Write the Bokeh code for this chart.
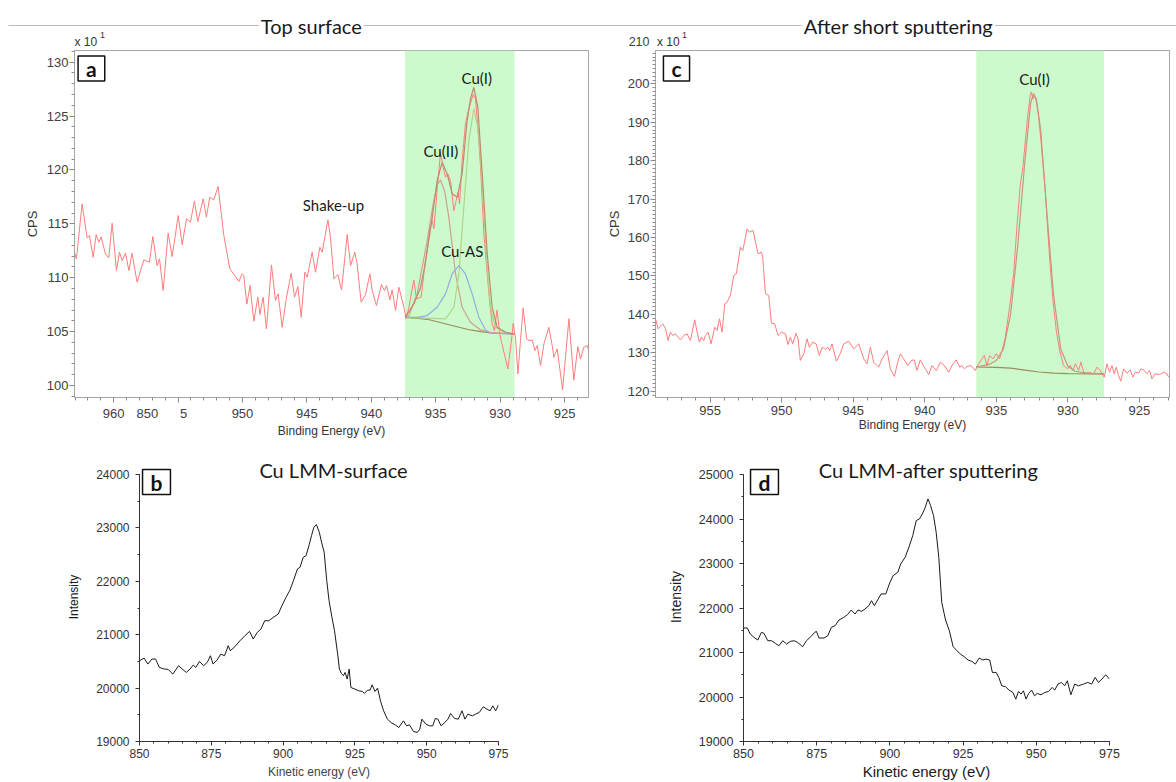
import math
from bokeh.plotting import figure
from bokeh.models import Range1d, Label, BoxAnnotation, SingleIntervalTicker
from bokeh.layouts import column, row
from bokeh.embed import file_html
from bokeh.resources import INLINE

# ---------------- data ----------------
# (a) Cu 2p3/2, top surface  (binding energy, CPS x10)
a_be = [963.35, 962.89, 962.45, 962.06, 961.88, 961.59, 961.36, 961.15, 960.97, 960.64,
        960.38, 960.12, 959.78, 959.55, 959.34, 959.08, 958.82, 958.57, 958.18, 957.66,
        957.22, 956.96, 956.63, 956.44, 956.16, 955.77, 955.46, 954.99, 954.68, 954.35,
        954.04, 953.73, 953.47, 953.05, 952.8, 952.54, 952.23, 951.89, 951.45, 950.98,
        950.54, 950.28, 950.03, 949.9, 949.66, 949.41, 949.12, 948.81, 948.65, 948.4,
        948.14, 947.75, 947.44, 947.23, 946.92, 946.58, 946.22, 945.96, 945.7, 945.44,
        945.16, 944.98, 944.85, 944.59, 944.33, 943.99, 943.81, 943.37, 943.17, 942.9,
        942.6, 942.31, 941.87, 941.61, 941.28, 941.1, 940.79, 940.45, 940.11, 939.93,
        939.6, 939.21, 938.98, 938.82, 938.56, 938.38, 938.12, 937.86, 937.47, 937.3,
        937.08, 936.7, 936.49, 936.13, 935.92, 935.66, 935.46, 935.27, 935.14, 934.94,
        934.63, 934.42, 934.24, 934.06, 933.85, 933.59, 933.41, 933.26, 933.15, 932.95,
        932.69, 932.43, 932.09, 931.91, 931.73, 931.52, 931.26, 931.0, 930.8, 930.62,
        930.44, 930.25, 930.0, 929.4, 929.06, 928.99, 928.81, 928.62, 928.42, 928.21,
        927.95, 927.69, 927.51, 927.3, 927.12, 926.86, 926.6, 926.22, 925.96, 925.83,
        925.57, 925.15, 924.66, 924.28, 923.97, 923.76, 923.5, 923.24, 923.1]
a_cps = [113.6, 111.75, 116.85, 113.7, 113.9, 111.9, 114.0, 113.3, 113.8, 112.2,
         111.85, 115.06, 110.67, 112.37, 111.6, 112.28, 110.67, 112.28, 109.59, 111.66,
         111.44, 113.82, 111.13, 111.75, 108.81, 114.13, 111.97, 115.77, 113.05, 115.46,
         115.15, 117.1, 115.21, 117.32, 115.62, 117.47, 117.22, 118.46, 113.92, 110.82,
         110.11, 109.65, 110.36, 110.2, 107.55, 109.28, 105.97, 108.2, 106.59, 108.2,
         105.26, 111.19, 107.89, 108.5, 105.41, 108.2, 110.42, 108.2, 109.18, 106.34,
         110.51, 110.05, 110.82, 112.37, 110.51, 112.83, 112.37, 115.37, 113.76, 109.9,
         110.3, 108.87, 114.01, 111.13, 112.37, 111.29, 107.73, 108.44, 110.36, 108.81,
         107.42, 109.37, 108.81, 109.28, 107.95, 108.87, 106.96, 109.12, 107.27, 106.2,
         107.26, 109.8, 108.04, 108.2, 110.35, 112.52, 114.53, 115.3, 114.53, 117.47,
         121.6, 120.25, 119.32, 119.63, 119.0, 116.23, 117.16, 117.93, 116.85, 120.87,
         124.27, 125.66, 127.0, 126.59, 123.96, 120.25, 114.07, 110.35, 107.57, 105.72,
         105.1, 107.0, 104.6, 101.54, 104.79, 105.78, 104.48, 101.08, 104.17, 107.2,
         104.33, 104.17, 104.23, 103.24, 103.71, 101.85, 103.86, 105.4, 103.71, 102.63,
         103.4, 99.6, 106.2, 100.5, 103.61, 102.47, 103.55, 103.71, 103.2]

a_env_be = [937.38, 936.7, 936.2, 935.92, 935.6, 935.27, 934.89, 934.5, 934.11, 933.72,
            933.33, 932.95, 932.56, 932.3, 932.04, 931.73, 931.39, 931.0, 930.62, 930.23,
            929.5, 928.88]
a_env_cps = [106.33, 107.57, 109.0, 110.66, 113.0, 115.6, 119.0, 120.71, 119.63, 117.78,
             117.47, 119.63, 124.58, 126.6, 127.67, 125.82, 119.63, 112.21, 107.26, 105.4,
             104.9, 104.79]
a_bg_be = [937.38, 936.5, 935.5, 934.5, 933.5, 932.5, 931.5, 930.5, 928.88]
a_bg_cps = [106.33, 106.25, 106.1, 105.8, 105.5, 105.2, 105.0, 104.85, 104.79]
a_cu2_be = [937.38, 937.08, 936.44, 935.66, 935.2, 934.9, 934.63, 934.3, 933.98, 933.46,
            932.95, 932.3, 931.52, 930.75, 928.88]
a_cu2_cps = [106.33, 106.5, 108.5, 113.45, 116.8, 118.6, 119.07, 118.0, 115.6, 110.35,
             107.26, 105.87, 105.16, 104.94, 104.79]
a_cu1_be = [937.38, 934.24, 933.59, 933.2, 932.82, 932.43, 932.04, 931.73, 931.52, 931.26,
            931.0, 930.75, 930.36, 929.71, 928.88]
a_cu1_cps = [106.33, 106.18, 107.26, 110.35, 116.54, 122.72, 125.66, 123.96, 121.18, 115.92,
             110.97, 107.26, 105.4, 104.94, 104.79]
a_as_be = [937.38, 936.44, 935.66, 934.89, 934.24, 933.72, 933.2, 932.69, 932.17, 931.65,
           931.13, 930.75, 928.88]
a_as_cps = [106.33, 106.33, 106.49, 107.26, 108.5, 110.35, 111.13, 110.35, 108.5, 106.33,
            105.16, 104.85, 104.79]

# (c) Cu 2p, after short sputtering
c_be = [958.81, 958.63, 958.3, 958.11, 957.93, 957.77, 957.6, 957.42, 957.23, 957.07,
        956.83, 956.6, 956.37, 956.25, 956.07, 955.9, 955.74, 955.6, 955.44, 955.32,
        955.13, 954.93, 954.67, 954.51, 954.34, 954.16, 953.97, 953.81, 953.58, 953.34,
        953.16, 952.88, 952.71, 952.41, 952.25, 951.99, 951.83, 951.64, 951.41, 951.32,
        951.13, 950.9, 950.71, 950.48, 950.25, 950.01, 949.73, 949.55, 949.39, 949.22,
        948.99, 948.85, 948.69, 948.45, 948.22, 948.06, 947.83, 947.59, 947.36, 947.17,
        946.94, 946.78, 946.64, 946.48, 946.36, 946.17, 945.89, 945.66, 945.31, 944.96,
        944.61, 944.26, 944.03, 943.8, 943.57, 943.22, 942.98, 942.63, 942.4, 942.12,
        941.89, 941.7, 941.47, 941.19, 940.96, 940.73, 940.54, 940.31, 940.03, 939.72,
        939.49, 939.19, 938.91, 938.63, 938.33, 938.03, 937.8, 937.56, 937.4, 937.23,
        937.05, 936.77, 936.47, 936.23, 935.84, 935.65, 935.47, 935.23, 935.0, 934.77,
        934.6, 934.37, 934.07, 933.79, 933.56, 933.32, 933.14, 932.97, 932.79, 932.63,
        932.56, 932.44, 932.35, 932.21, 932.04, 931.88, 931.74, 931.58, 931.42, 931.23,
        931.04, 930.81, 930.58, 930.3, 930.02, 929.83, 929.65, 929.48, 929.25, 929.09,
        928.86, 928.55, 928.2, 927.97, 927.74, 927.46, 927.27, 927.09, 926.92, 926.76,
        926.62, 926.46, 926.3, 926.11, 925.88, 925.64, 925.46, 925.29, 925.06, 924.9,
        924.71, 924.48, 924.29, 924.13, 923.9, 923.59, 923.31, 923.08, 922.96]
c_cps = [138.84, 136.24, 137.54, 136.24, 133.2, 135.37, 134.5, 134.94, 134.07, 133.37,
         134.5, 134.94, 133.2, 135.37, 138.58, 135.37, 132.77, 134.07, 133.2, 134.5,
         135.37, 132.33, 136.67, 135.8, 138.84, 135.37, 142.75, 143.18, 144.92, 150.12,
         150.56, 157.5, 156.63, 162.27, 161.41, 161.84, 158.8, 155.77, 156.2, 154.9,
         145.35, 144.92, 137.72, 137.54, 134.5, 135.37, 134.94, 132.16, 134.07, 132.33,
         135.11, 133.63, 128.0, 129.73, 133.63, 131.46, 132.77, 132.33, 129.3, 131.46,
         130.9, 131.46, 130.59, 132.33, 130.59, 127.82, 129.9, 132.33, 133.02, 131.03,
         132.33, 128.42, 127.12, 131.46, 127.56, 126.25, 128.42, 130.59, 125.82, 123.82,
         127.56, 129.72, 128.42, 126.69, 127.99, 128.16, 125.39, 128.16, 126.25, 124.34,
         126.69, 125.39, 127.56, 126.69, 124.95, 127.12, 128.16, 126.25, 126.69, 125.82,
         126.43, 126.69, 125.39, 127.12, 129.29, 126.69, 129.29, 128.42, 129.72, 128.42,
         130.59, 134.06, 141.88, 150.55, 162.7, 173.98, 178.32, 185.27, 192.21, 196.98,
         197.9, 196.11, 196.9, 195.68, 191.34, 185.27, 179.19, 172.25, 162.7, 152.29,
         143.61, 135.8, 130.59, 126.69, 125.82, 126.69, 125.39, 127.12, 125.39, 127.56,
         124.52, 124.95, 124.52, 126.25, 125.39, 123.65, 127.12, 124.95, 126.69, 124.52,
         126.25, 124.08, 122.61, 125.82, 124.69, 125.56, 123.65, 124.95, 124.69, 125.82,
         125.56, 124.52, 125.39, 123.22, 124.52, 124.34, 124.95, 124.52, 123.65]
c_env_be = [936.4, 935.5, 935.0, 934.5, 934.0, 933.5, 933.0, 932.6, 932.4, 932.2,
            931.9, 931.5, 931.0, 930.5, 930.0, 929.5, 928.5, 927.47]
c_env_cps = [126.3, 127.0, 128.0, 131.0, 140.0, 158.0, 180.0, 195.0, 197.5, 196.0,
             188.0, 168.0, 145.0, 131.0, 126.5, 125.2, 124.6, 124.5]
c_bg_be = [936.4, 935.0, 934.0, 933.0, 932.0, 931.0, 930.0, 927.47]
c_bg_cps = [126.3, 126.2, 126.0, 125.5, 125.0, 124.7, 124.55, 124.5]

# (b) Cu LMM surface (kinetic energy, intensity)
b_ke = [850, 851.6, 852.9, 854.3, 855.6, 856.9, 858.7, 860.0, 861.6, 863.6,
        864.9, 866.3, 867.6, 868.7, 869.6, 870.9, 872.3, 873.6, 874.7, 875.6,
        877.0, 878.3, 879.6, 880.9, 881.6, 883.2, 885.0, 886.7, 888.3, 889.6,
        891.0, 892.3, 893.6, 895.0, 896.6, 898.3, 899.6, 901.0, 902.3, 903.6,
        905.0, 905.9, 907.0, 908.0, 909.0, 909.9, 910.7, 911.6, 912.6, 913.4,
        914.3, 915.2, 916.0, 917.0, 917.9, 919.0, 919.6, 920.3, 921.0, 921.6,
        922.3, 923.0, 923.6, 925.0, 926.3, 927.6, 928.3, 929.4, 930.3, 931.0,
        932.0, 932.9, 933.9, 935.0, 936.3, 937.6, 939.0, 940.3, 941.9, 943.0,
        944.0, 945.4, 946.7, 947.6, 948.3, 949.7, 951.0, 952.1, 953.0, 953.9,
        955.0, 956.3, 957.4, 958.3, 959.7, 961.0, 962.3, 963.3, 964.3, 965.9,
        967.0, 968.3, 969.7, 971.0, 972.1, 973.0, 974.0, 975.0]
b_int = [20512, 20562, 20450, 20544, 20544, 20387, 20356, 20350, 20262, 20419,
         20356, 20294, 20356, 20431, 20387, 20500, 20419, 20481, 20606, 20450,
         20525, 20637, 20606, 20794, 20700, 20775, 20887, 20981, 21062, 20919,
         21044, 21106, 21262, 21262, 21325, 21387, 21544, 21700, 21825, 22012,
         22231, 22262, 22450, 22481, 22669, 22856, 23012, 23062, 22919, 22731,
         22544, 22012, 21637, 21325, 21075, 20637, 20356, 20275, 20231, 20294,
         20169, 20356, 20012, 19981, 19950, 19937, 19900, 19962, 19962, 20062,
         19937, 20000, 19762, 19575, 19419, 19356, 19312, 19262, 19387, 19294,
         19312, 19187, 19169, 19231, 19419, 19325, 19294, 19294, 19431, 19419,
         19294, 19356, 19419, 19525, 19431, 19419, 19575, 19419, 19512, 19481,
         19512, 19544, 19650, 19606, 19575, 19669, 19575, 19687]

# (d) Cu LMM after sputtering
d_ke = [850, 851.3, 852.3, 853.6, 854.9, 856.1, 857.0, 858.3, 859.6, 860.9,
        862.1, 863.4, 864.7, 866.0, 867.3, 868.5, 870.2, 871.5, 873.0, 874.3,
        874.9, 875.8, 877.5, 878.8, 880.0, 881.3, 882.6, 884.3, 885.5, 886.8,
        888.1, 889.1, 890.3, 891.5, 892.8, 893.7, 894.7, 896.0, 897.0, 898.6,
        899.8, 901.1, 902.7, 903.7, 905.2, 906.5, 907.8, 909.0, 910.1, 911.1,
        912.0, 913.0, 913.9, 914.9, 915.8, 916.7, 917.7, 919.0, 920.3, 921.6,
        922.9, 924.1, 925.4, 926.7, 928.0, 929.2, 930.5, 931.8, 932.8, 934.1,
        935.0, 936.3, 937.2, 938.2, 939.5, 940.7, 942.0, 943.0, 943.9, 944.8,
        945.6, 946.5, 947.4, 948.4, 949.4, 950.3, 951.6, 952.9, 954.2, 955.4,
        956.3, 957.4, 958.6, 959.7, 960.6, 961.8, 963.1, 964.4, 966.1, 967.6,
        968.9, 970.1, 971.2, 972.4, 973.7, 975.0]
d_int = [21550, 21550, 21415, 21340, 21280, 21452, 21430, 21265, 21265, 21205,
         21152, 21265, 21190, 21250, 21265, 21227, 21130, 21265, 21355, 21452,
         21475, 21325, 21325, 21377, 21565, 21602, 21730, 21790, 21850, 21955,
         21865, 21955, 21925, 21977, 22052, 22165, 22052, 22202, 22315, 22315,
         22540, 22727, 22802, 22990, 23140, 23365, 23627, 23965, 24002, 24115,
         24250, 24452, 24302, 24077, 23702, 23140, 22127, 21730, 21490, 21130,
         21040, 20965, 20905, 20830, 20800, 20740, 20875, 20830, 20852, 20830,
         20552, 20552, 20440, 20252, 20230, 20155, 20102, 19952, 20125, 20065,
         20140, 19952, 20080, 20155, 20027, 20080, 20050, 20102, 20125, 20215,
         20155, 20290, 20327, 20252, 20365, 20050, 20290, 20252, 20290, 20327,
         20290, 20440, 20327, 20402, 20500, 20402]

# tick text of panel (a) where the reference shows an overlapping "850"
a_tick_override = {955: "850" + "\u00a0" * 6 + "5" + "\u00a0" * 9}

# ---------------- styling helpers ----------------
SANS = "Liberation Sans"
CAL = "Lato"
RED = "#ff7c7c"


def make_fig(ox, oy, w, h, bl, br, bt, bb, xr, yr):
    p = figure(width=w, height=h, x_range=Range1d(*xr), y_range=Range1d(*yr),
               output_backend="svg", toolbar_location=None, title=None,
               min_border_left=bl, min_border_right=br, min_border_top=bt, min_border_bottom=bb)
    p.xgrid.visible = False
    p.ygrid.visible = False
    p.background_fill_color = "white"
    p.border_fill_color = "white"
    fl, fr, ft, fb = ox + bl, ox + w - br, oy + bt, oy + h - bb

    def conv(X, Y):
        dx = xr[0] + (X - fl) / (fr - fl) * (xr[1] - xr[0])
        dy = yr[0] + (fb - Y) / (fb - ft) * (yr[1] - yr[0])
        return dx, dy
    return p, conv


def lab(p, conv, X, Y, text, size, font=SANS, color="#333333", align="center",
        baseline="middle", angle=0.0, style="normal", **kw):
    x, y = conv(X, Y)
    p.add_layout(Label(x=x, y=y, text=text, text_font=font, text_font_size=size,
                       text_color=color, text_align=align, text_baseline=baseline,
                       angle=angle, text_font_style=style, **kw))


def letter_box(p, conv, X, Y, letter):
    lab(p, conv, X, Y, letter, "21px", font=CAL, color="#111111", style="bold",
        border_line_color="#111111", border_line_width=1.5,
        background_fill_color="white",
        padding=dict(left=8, right=8, top=0, bottom=0))


def style_xps(p, yint, yminor, ylab_standoff):
    gray = "#a6a6a6"
    p.outline_line_color = gray
    for ax in (p.xaxis[0], p.yaxis[0]):
        ax.axis_line_color = gray
        ax.major_tick_line_color = "#8c8c8c"
        ax.minor_tick_line_color = "#8c8c8c"
        ax.major_tick_in = 0
        ax.minor_tick_in = 0
        ax.major_tick_out = 5
        ax.minor_tick_out = 3
        ax.major_label_text_font = SANS
        ax.major_label_text_font_size = "13px"
        ax.major_label_text_color = "#404040"
        ax.axis_label_text_font = SANS
        ax.axis_label_text_font_style = "normal"
        ax.axis_label_text_color = "#333333"
    p.xaxis[0].ticker = SingleIntervalTicker(interval=5, num_minor_ticks=5)
    p.yaxis[0].ticker = SingleIntervalTicker(interval=yint, num_minor_ticks=yminor)
    p.xaxis[0].major_label_standoff = 3
    p.yaxis[0].major_label_standoff = 1
    p.xaxis[0].axis_label = "Binding Energy (eV)"
    p.xaxis[0].axis_label_text_font_size = "12px"
    p.xaxis[0].axis_label_standoff = 0
    p.yaxis[0].axis_label = "CPS"
    p.yaxis[0].axis_label_text_font_size = "13px"
    p.yaxis[0].axis_label_standoff = ylab_standoff


def style_aes(p, fs, ytop, xlab_fs, ylab_fs, xlab_std, xlab_color):
    p.outline_line_color = None
    for ax in (p.xaxis[0], p.yaxis[0]):
        ax.axis_line_color = "#333333"
        ax.major_tick_line_color = "#333333"
        ax.minor_tick_line_color = "#333333"
        ax.major_tick_in = 0
        ax.minor_tick_in = 0
        ax.major_tick_out = 4
        ax.minor_tick_out = 2
        ax.major_label_text_font = SANS
        ax.major_label_text_font_size = fs
        ax.major_label_text_color = "#333333"
        ax.axis_label_text_font = SANS
        ax.axis_label_text_font_style = "normal"
    p.xaxis[0].ticker = SingleIntervalTicker(interval=25, num_minor_ticks=5)
    p.yaxis[0].ticker = SingleIntervalTicker(interval=1000, num_minor_ticks=2)
    p.yaxis[0].bounds = (19000, ytop)
    p.xaxis[0].major_label_standoff = 3
    p.yaxis[0].major_label_standoff = 6
    p.xaxis[0].axis_label = "Kinetic energy (eV)"
    p.xaxis[0].axis_label_text_font_size = xlab_fs
    p.xaxis[0].axis_label_text_color = xlab_color
    p.xaxis[0].axis_label_standoff = xlab_std
    p.yaxis[0].axis_label = "Intensity"
    p.yaxis[0].axis_label_text_font_size = ylab_fs
    p.yaxis[0].axis_label_text_color = "#1a1a1a"
    p.yaxis[0].axis_label_standoff = 12


# ---------------- header strip (page pixels = data units) ----------------
hdr = figure(width=1176, height=49, x_range=Range1d(0, 1176), y_range=Range1d(49, 0),
             output_backend="svg", toolbar_location=None, title=None,
             x_axis_location=None, y_axis_location=None,
             min_border_left=0, min_border_right=0, min_border_top=0, min_border_bottom=0)
hdr.xgrid.visible = False
hdr.ygrid.visible = False
hdr.outline_line_color = None
hdr.segment(x0=[8], y0=[25], x1=[1176], y1=[25], line_color="#bdbdbd", line_width=1)
hid = lambda X, Y: (X, Y)
lab(hdr, hid, 310.8, 25, "Top surface", "20px", font=CAL, color="#1a1a1a",
    background_fill_color="white", padding=dict(left=2, right=2, top=0, bottom=0))
lab(hdr, hid, 898, 25, "After short sputtering", "20px", font=CAL, color="#1a1a1a",
    background_fill_color="white", padding=dict(left=2, right=2, top=0, bottom=0))
lab(hdr, hid, 74, 41.5, "x 10", "12px", align="left")
lab(hdr, hid, 99.5, 34.5, "1", "9px", align="left")
lab(hdr, hid, 656.5, 41.5, "x 10", "12px", align="left")
lab(hdr, hid, 681.5, 34.5, "1", "9px", align="left")
lab(hdr, hid, 649, 41, "210", "12.5px", align="right", color="#404040")

# ---------------- panel a ----------------
pa, ca = make_fig(0, 49, 600, 391, 74, 12, 1, 43, (963.04, 923.14), (98.89, 131.08))
style_xps(pa, 5, 5, 4)
pa.xaxis[0].major_label_overrides = a_tick_override
pa.add_layout(BoxAnnotation(left=937.38, right=928.88, fill_color="#ccfacc", fill_alpha=1.0,
                            line_color=None, level="underlay"))
pa.line(a_be, a_cps, line_color=RED, line_width=1)
pa.line(a_bg_be, a_bg_cps, line_color="#9c8a55", line_width=1.2)
pa.line(a_cu2_be, a_cu2_cps, line_color="#cf9f8f", line_width=1.2)
pa.line(a_cu1_be, a_cu1_cps, line_color="#b2d48a", line_width=1.2)
pa.line(a_as_be, a_as_cps, line_color="#93ade0", line_width=1.2)
pa.line(a_env_be, a_env_cps, line_color="#c08a6a", line_width=1.2)
letter_box(pa, ca, 90.9, 68, "a")
lab(pa, ca, 476.3, 77.7, "Cu(I)", "15px", font=CAL, color="#1a1a1a")
lab(pa, ca, 440.3, 150, "Cu(II)", "15px", font=CAL, color="#1a1a1a")
lab(pa, ca, 461.7, 250, "Cu-AS", "15px", font=CAL, color="#1a1a1a")
lab(pa, ca, 333, 204.3, "Shake-up", "15px", font=CAL, color="#1a1a1a")

# ---------------- panel c ----------------
pc, cc = make_fig(600, 49, 576, 391, 55, 7, 1, 43, (958.81, 922.90), (118.36, 208.7))
style_xps(pc, 10, 10, 3)
pc.add_layout(BoxAnnotation(left=936.4, right=927.47, fill_color="#ccfacc", fill_alpha=1.0,
                            line_color=None, level="underlay"))
pc.line(c_be, c_cps, line_color=RED, line_width=1)
pc.line(c_bg_be, c_bg_cps, line_color="#a08a60", line_width=1.2)
pc.line(c_env_be, c_env_cps, line_color="#c8957a", line_width=1.2)
letter_box(pc, cc, 676, 68, "c")
lab(pc, cc, 1034, 78.3, "Cu(I)", "15px", font=CAL, color="#1a1a1a")

# ---------------- panel b ----------------
pb, cb = make_fig(0, 440, 600, 342, 139, 102, 12, 41, (850, 975), (19000, 24411.99))
style_aes(pb, "12px", 24000, "12px", "12px", 4, "#444444")
pb.line(b_ke, b_int, line_color="#1a1a1a", line_width=1)
letter_box(pb, cb, 156, 481.5, "b")
lab(pb, cb, 333, 469, "Cu LMM-surface", "20px", font=CAL, color="#1a1a1a")

# ---------------- panel d ----------------
pd_, cd = make_fig(600, 440, 576, 342, 143, 67, 12, 41, (850, 975), (19000, 25494.4))
style_aes(pd_, "12.5px", 25000, "15px", "14px", 2, "#1a1a1a")
pd_.line(d_ke, d_int, line_color="#1a1a1a", line_width=1)
letter_box(pd_, cd, 764, 481.5, "d")
lab(pd_, cd, 928, 469, "Cu LMM-after sputtering", "20px", font=CAL, color="#1a1a1a")

layout = column(hdr, row(pa, pc), row(pb, pd_))
open("out.html", "w").write(file_html(layout, INLINE))
